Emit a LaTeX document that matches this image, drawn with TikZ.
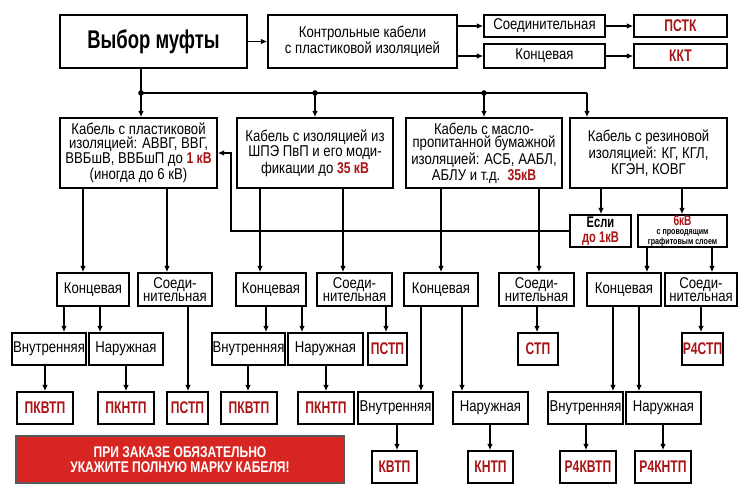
\documentclass[tikz,border=0pt]{standalone}
\usepackage{fontspec}
\setmainfont{Liberation Sans}[FakeStretch=0.84]
\newfontfamily\narrowfont{Liberation Sans}[FakeStretch=0.78]
\newfontfamily\codefont{Liberation Sans}[FakeStretch=0.72]
\usetikzlibrary{arrows.meta}
\definecolor{codered}{RGB}{170,20,22}
\definecolor{bannerred}{RGB}{215,38,33}
\newcommand{\kv}[1]{{\narrowfont\bfseries\color{codered}#1}}
\tikzset{
    box/.style={draw, line width=0.9pt, fill=white, align=center, inner xsep=0.3pt, inner ysep=1pt,
        font=\fontsize{8.9}{7.8}\selectfont},
    code/.style={box, text=codered, font=\codefont\bfseries\fontsize{9.6}{9}\selectfont},
    wh/.style 2 args={minimum width=#1*0.02cm, minimum height=#2*0.02cm},
    wire/.style={line width=0.8pt},
    arr/.style={wire, ->}
}

\begin{document}
\begin{tikzpicture}[x=0.02cm, y=-0.02cm, >={Latex[length=3.6pt,width=3.2pt]}]
    \useasboundingbox (0,0) rectangle (750,500);

    % top row
    \node[box, wh={187}{53}, font=\codefont\bfseries\fontsize{14.6}{15}\selectfont] (main) at (153.5,41.5) {Выбор муфты};
    \node[box, wh={189}{53}] (ctrl) at (362.5,41.5) {Контрольные кабели\\с пластиковой изоляцией};
    \node[box, wh={121}{22}] (ctrlS) at (544.5,26) {Соединительная};
    \node[box, wh={121}{24}] (ctrlK) at (544.5,56) {Концевая};
    \node[code, wh={93}{22}] (pstk) at (680.5,26) {ПСТК};
    \node[code, wh={93}{24}] (kkt) at (680.5,56) {ККТ};

    \draw[arr] (main.east) -- (ctrl.west);
    \draw[arr] (ctrl.east |- ctrlS) -- (ctrlS.west);
    \draw[arr] (ctrl.east |- ctrlK) -- (ctrlK.west);
    \draw[arr] (ctrlS.east) -- (pstk.west);
    \draw[arr] (ctrlK.east) -- (kkt.west);

    % cable types
    \node[box, wh={157}{70}] (cab1) at (138.5,153) {Кабель с пластиковой\\изоляцией: АВВГ, ВВГ,\\ВВБшВ, ВВБшП до \kv{1 кВ}\\(иногда до 6 кВ)};
    \node[box, wh={156}{70}] (cab2) at (315,153) {Кабель с изоляцией из\\ШПЭ ПвП и его моди-\\фикации до \kv{35 кВ}};
    \node[box, wh={156}{70}] (cab3) at (484,153) {Кабель с масло-\\пропитанной бумажной\\изоляцией: АСБ, ААБЛ,\\АБЛУ и т.д.~~\kv{35кВ}};
    \node[box, wh={157}{70}] (cab4) at (648.5,153) {Кабель с резиновой\\изоляцией: КГ, КГЛ,\\КГЭН, КОВГ};

    \coordinate (j1) at (141,93);
    \coordinate (j2) at (315,93);
    \coordinate (j3) at (484,93);
    \coordinate (j4) at (587,93);
    \draw[wire] (main.south -| j1) -- (j1) -- (j4);
    \foreach \j/\c in {j1/cab1, j2/cab2, j3/cab3, j4/cab4}
        \draw[arr] (\j) -- (\j |- \c.north);
    \foreach \j in {j1,j2,j3}
        \fill (\j) circle (1.6pt);

    % voltage of rubber cable
    \node[box, wh={61}{32}, inner ysep=0pt, font=\codefont\bfseries\fontsize{8.8}{8.6}\selectfont] (esli) at (600.5,231) {Если\\\textcolor{codered}{до 1кВ}};
    \node[box, wh={89}{32}, inner ysep=0pt, font=\narrowfont\bfseries\fontsize{5.2}{5.6}\selectfont] (kv6) at (682.5,231)
        {{\codefont\fontsize{8}{6.5}\selectfont\textcolor{codered}{6кВ}}\\с проводящим\\графитовым слоем};
    \coordinate (bend) at (231,153);
    \draw[arr] (esli.west) -| (bend) -- (cab1.east);

    % Концевая / Соединительная
    \node[box, wh={72}{33}] (k1) at (93,289.5) {Концевая};
    \node[box, wh={74}{33}] (s1) at (175,289.5) {Соеди-\\нительная};
    \node[box, wh={70}{33}] (k2) at (271,289.5) {Концевая};
    \node[box, wh={75}{33}] (s2) at (354.5,289.5) {Соеди-\\нительная};
    \node[box, wh={74}{33}] (k3) at (441,289.5) {Концевая};
    \node[box, wh={75}{33}] (s3) at (536.5,289.5) {Соеди-\\нительная};
    \node[box, wh={74}{33}] (k4) at (624,289.5) {Концевая};
    \node[box, wh={72}{33}] (s4) at (701,289.5) {Соеди-\\нительная};

    % Внутренняя / Наружная
    \node[box, wh={74}{32}] (v1) at (49,349) {Внутренняя};
    \node[box, wh={74}{32}] (n1) at (126,349) {Наружная};
    \node[box, wh={73}{32}] (v2) at (248.5,349) {Внутренняя};
    \node[box, wh={75}{32}] (n2) at (325.5,349) {Наружная};
    \node[code, wh={39}{32}] (pstpa) at (387.5,349) {ПСТП};
    \node[code, wh={40}{32}] (stp) at (538,349) {СТП};
    \node[code, wh={41}{32}] (rstp) at (702.5,349) {Р4СТП};

    \node[code, wh={56}{32}] (pkvtpa) at (45,408) {ПКВТП};
    \node[code, wh={56}{32}] (pkntpa) at (126,408) {ПКНТП};
    \node[code, wh={41}{32}] (pstpb) at (187.5,408) {ПСТП};
    \node[code, wh={56}{32}] (pkvtpb) at (249,408) {ПКВТП};
    \node[code, wh={56}{32}] (pkntpb) at (326,408) {ПКНТП};
    \node[box, wh={75}{32}] (v3) at (395.5,408) {Внутренняя};
    \node[box, wh={75}{32}] (n3) at (490.5,408) {Наружная};
    \node[box, wh={75}{32}] (v4) at (585.5,408) {Внутренняя};
    \node[box, wh={75}{32}] (n4) at (663.5,408) {Наружная};

    \node[code, wh={45}{32}] (kvtp) at (394.5,467) {КВТП};
    \node[code, wh={45}{32}] (kntp) at (490.5,467) {КНТП};
    \node[code, wh={56}{32}] (rkvtp) at (588,467) {Р4КВТП};
    \node[code, wh={56}{32}] (rkntp) at (663,467) {Р4КНТП};

    % drops between rows
    \foreach \a/\b/\x in {cab4/esli/601, cab4/kv6/682,
        cab1/k1/83, cab1/s1/167, cab2/k2/260, cab2/s2/343, cab3/k3/441, cab3/s3/539, kv6/k4/647, kv6/s4/712,
        k1/v1/64, k1/n1/100, k2/v2/266, k2/n2/302, s2/pstpa/386, s3/stp/537, s4/rstp/701,
        v1/pkvtpa/45, n1/pkntpa/126, s1/pstpb/188, v2/pkvtpb/248, n2/pkntpb/326,
        k3/v3/421, k3/n3/462, k4/v4/613, k4/n4/639,
        v3/kvtp/397, n3/kntp/490, v4/rkvtp/586, n4/rkntp/663}
        \draw[arr] (\a.south -| \x,0) -- (\b.north -| \x,0);

    % note
    \node[draw=black!65, line width=0.9pt, fill=bannerred, text=white, wh={328}{47}, align=center,
        font=\narrowfont\bfseries\fontsize{8.8}{8.6}\selectfont] (note) at (180,459.5)
        {ПРИ ЗАКАЗЕ ОБЯЗАТЕЛЬНО\\УКАЖИТЕ ПОЛНУЮ МАРКУ КАБЕЛЯ!};
\end{tikzpicture}
\end{document}
